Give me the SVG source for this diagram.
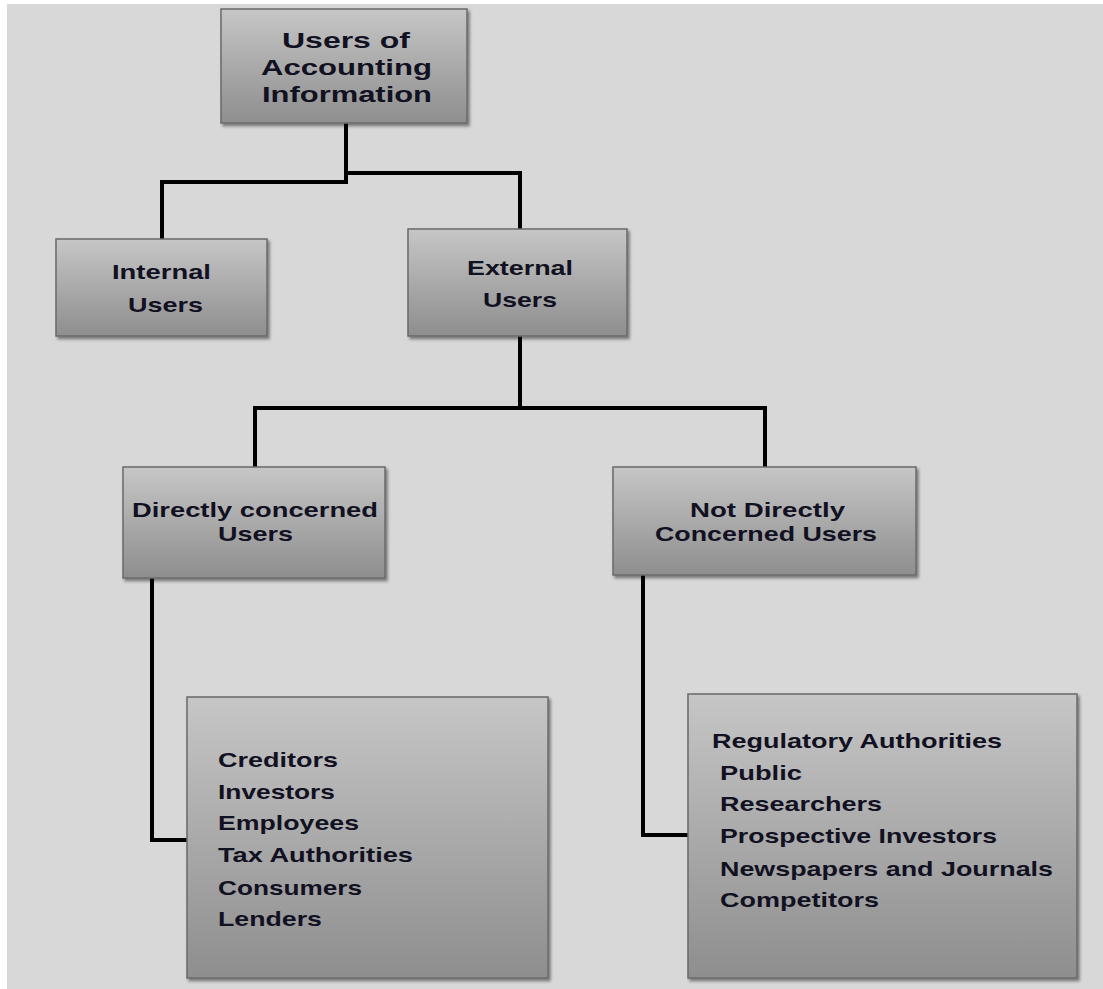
<svg xmlns="http://www.w3.org/2000/svg" width="1103" height="989" viewBox="0 0 1103 989">
<defs>
<linearGradient id="boxGrad" x1="0" y1="0" x2="0" y2="1">
<stop offset="0" stop-color="#c6c6c6"/>
<stop offset="1" stop-color="#8e8e8e"/>
</linearGradient>
<filter id="shadow" x="-5%" y="-5%" width="115%" height="120%">
<feDropShadow dx="2" dy="2.5" stdDeviation="1.6" flood-color="#000" flood-opacity="0.45"/>
</filter>
</defs>
<style>
.box{fill:url(#boxGrad);stroke:#6a6a6a;stroke-width:1.5;filter:url(#shadow)}
.t{font-family:"Liberation Sans",Arial,sans-serif;font-weight:bold;font-size:21px;fill:#111122}
.big{font-size:22px}
.conn{fill:none;stroke:#000;stroke-width:4;stroke-linejoin:miter}
</style>
<rect x="0" y="0" width="1103" height="989" fill="#ffffff"/>
<rect x="7" y="4" width="1096" height="985" fill="#d8d8d8"/>

<g id="connectors">
<path class="conn" d="M346,123 V182 H162 V239"/>
<path class="conn" d="M346,173 H520 V229"/>
<path class="conn" d="M520,336 V408 H255 V467"/>
<path class="conn" d="M520,408 H765 V467"/>
<path class="conn" d="M152,578 V840 H188"/>
<path class="conn" d="M643,575 V835 H689"/>
</g>

<g id="users-of-accounting-information">
<rect class="box" x="221" y="9" width="246" height="114"/>
<text class="t big" x="282" y="48" textLength="128" lengthAdjust="spacingAndGlyphs">Users of</text>
<text class="t big" x="261" y="75" textLength="171" lengthAdjust="spacingAndGlyphs">Accounting</text>
<text class="t big" x="262" y="102" textLength="170" lengthAdjust="spacingAndGlyphs">Information</text>
</g>

<g id="internal-users">
<rect class="box" x="56" y="239" width="211" height="97"/>
<text class="t" x="112" y="279" textLength="99" lengthAdjust="spacingAndGlyphs">Internal</text>
<text class="t" x="128" y="312" textLength="75" lengthAdjust="spacingAndGlyphs">Users</text>
</g>

<g id="external-users">
<rect class="box" x="408" y="229" width="219" height="107"/>
<text class="t" x="467" y="275" textLength="106" lengthAdjust="spacingAndGlyphs">External</text>
<text class="t" x="483" y="307" textLength="74" lengthAdjust="spacingAndGlyphs">Users</text>
</g>

<g id="directly-concerned-users">
<rect class="box" x="123" y="467" width="262" height="111"/>
<text class="t" x="132" y="517" textLength="246" lengthAdjust="spacingAndGlyphs">Directly concerned</text>
<text class="t" x="218" y="541" textLength="75" lengthAdjust="spacingAndGlyphs">Users</text>
</g>

<g id="not-directly-concerned-users">
<rect class="box" x="613" y="467" width="303" height="108"/>
<text class="t" x="690" y="517" textLength="155" lengthAdjust="spacingAndGlyphs">Not Directly</text>
<text class="t" x="655" y="541" textLength="222" lengthAdjust="spacingAndGlyphs">Concerned Users</text>
</g>

<g id="directly-list">
<rect class="box" x="187" y="697" width="361" height="281"/>
<text class="t" x="218" y="767" textLength="120" lengthAdjust="spacingAndGlyphs">Creditors</text>
<text class="t" x="218" y="799" textLength="117" lengthAdjust="spacingAndGlyphs">Investors</text>
<text class="t" x="218" y="830" textLength="141" lengthAdjust="spacingAndGlyphs">Employees</text>
<text class="t" x="218" y="862" textLength="195" lengthAdjust="spacingAndGlyphs">Tax Authorities</text>
<text class="t" x="218" y="895" textLength="144" lengthAdjust="spacingAndGlyphs">Consumers</text>
<text class="t" x="218" y="926" textLength="104" lengthAdjust="spacingAndGlyphs">Lenders</text>
</g>

<g id="not-directly-list">
<rect class="box" x="688" y="694" width="389" height="284"/>
<text class="t" x="712" y="748" textLength="290" lengthAdjust="spacingAndGlyphs">Regulatory Authorities</text>
<text class="t" x="720" y="780" textLength="82" lengthAdjust="spacingAndGlyphs">Public</text>
<text class="t" x="720" y="811" textLength="162" lengthAdjust="spacingAndGlyphs">Researchers</text>
<text class="t" x="720" y="843" textLength="277" lengthAdjust="spacingAndGlyphs">Prospective Investors</text>
<text class="t" x="720" y="876" textLength="333" lengthAdjust="spacingAndGlyphs">Newspapers and Journals</text>
<text class="t" x="720" y="907" textLength="159" lengthAdjust="spacingAndGlyphs">Competitors</text>
</g>
</svg>
